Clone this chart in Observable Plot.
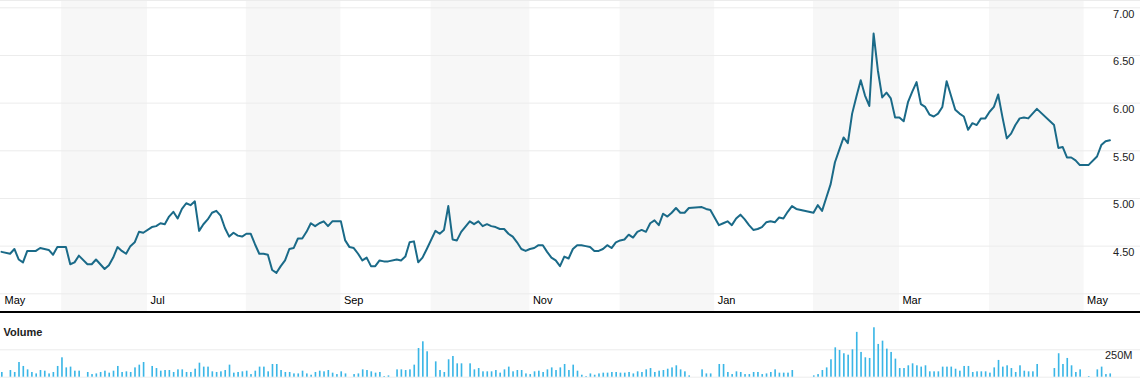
<!DOCTYPE html>
<html><head><meta charset="utf-8">
<script src="https://cdn.jsdelivr.net/npm/d3@7"></script>
<script src="https://cdn.jsdelivr.net/npm/@observablehq/plot@0.6"></script>
<style>
html,body{margin:0;padding:0;background:#fff;}
body{width:1140px;height:392px;overflow:hidden;font-family:"Liberation Sans",Arial,sans-serif;}
#price{height:311px;border-bottom:2px solid #000;}
#price svg,#vol svg{display:block;}
</style></head><body>
<div id="price"></div>
<div id="vol"></div>
<script>
// closing price per trading-day slot (null = market holiday)
const prices = [
4.44,null,4.42,4.47,4.36,4.33,4.45,4.45,4.45,4.48,
4.47,4.46,4.41,4.49,4.49,4.49,4.31,4.33,4.40,null,
4.31,4.31,4.36,4.31,4.26,4.30,4.38,4.49,4.45,4.42,
4.50,4.54,4.65,4.64,null,4.70,4.71,4.74,4.73,4.81,
4.86,4.79,4.89,4.95,4.93,4.97,4.66,4.73,4.78,4.85,
4.87,4.82,4.69,4.60,4.64,4.61,4.60,4.63,4.63,4.52,
4.42,4.42,4.41,4.25,4.22,4.29,4.35,4.47,4.48,4.58,
4.58,4.65,4.74,4.71,4.74,4.76,4.71,4.76,4.76,4.76,
4.56,4.49,4.48,4.42,4.35,4.38,4.29,4.29,4.35,4.34,
4.34,null,4.36,4.35,4.39,4.54,4.55,4.33,4.38,4.47,
null,4.66,4.63,4.67,4.92,4.57,4.56,4.65,null,4.76,
4.73,4.76,4.71,4.73,4.71,4.70,4.68,4.68,4.63,4.60,
4.54,4.47,4.45,4.47,4.48,4.51,4.51,4.44,4.38,4.35,
4.29,4.39,4.37,4.47,4.51,4.51,4.50,4.49,4.45,4.45,
4.47,4.51,4.48,4.54,4.56,4.57,4.62,4.59,4.65,4.67,
4.65,4.74,4.77,4.72,4.84,4.81,4.85,4.90,4.85,4.85,
4.90,null,null,4.91,4.89,4.88,null,4.72,4.74,4.76,
4.72,4.79,4.83,4.78,4.72,4.67,4.68,4.70,4.75,4.76,
4.75,4.80,4.79,4.86,4.92,4.89,null,null,null,4.85,
4.93,4.87,5.01,5.15,5.38,5.51,5.64,5.58,5.89,6.07,
6.24,6.08,5.97,6.73,6.34,6.06,6.11,6.05,5.85,5.85,
5.81,6.01,6.12,6.22,5.99,5.96,5.88,5.86,5.89,5.96,
6.23,6.08,5.93,5.89,5.86,5.72,5.79,5.77,5.84,5.84,
5.91,5.96,6.09,5.85,5.63,5.68,5.77,5.84,5.85,5.84,
5.89,5.94,null,null,null,5.77,5.53,5.54,5.43,5.43,
5.40,5.35,null,5.35,null,5.44,5.56,5.60,5.61
];
// volume in millions per trading-day slot
const volumes = [
43,null,61,43,134,98,67,43,30,61,
55,30,43,98,177,85,92,55,55,null,
43,24,30,43,55,37,55,98,43,49,
43,85,110,134,null,98,79,55,61,61,
43,67,67,43,43,73,128,92,92,49,
43,49,61,110,37,43,49,55,24,55,
92,92,49,116,116,61,43,43,30,30,
55,30,18,43,55,49,61,37,24,49,
30,null,24,30,67,61,49,37,43,6,
12,null,67,67,61,67,110,262,323,232,
null,140,61,43,159,189,122,122,null,122,
67,79,49,49,49,61,37,67,92,49,
61,61,30,24,49,55,43,67,85,61,
85,116,61,110,55,18,6,30,18,30,
37,37,43,43,37,37,43,30,49,43,
67,79,43,55,61,73,85,104,67,49,
12,null,null,67,30,30,null,116,116,43,
24,49,43,24,24,43,43,24,30,43,
67,37,37,37,61,null,null,null,null,12,
24,61,85,159,268,244,214,201,250,409,
226,177,171,451,299,329,256,226,165,79,
79,104,122,104,92,104,49,49,49,92,
92,92,73,55,98,98,43,49,49,49,
37,85,153,92,104,79,43,104,55,49,
49,116,null,null,null,79,214,116,171,104,
43,67,null,6,null,67,92,24,30
];
const monthNames  = ["May","Jun","Jul","Aug","Sep","Oct","Nov","Dec","Jan","Feb","Mar","Apr","May"];
const monthStarts = [0,14,34,57,79,100,123,144,166,189,209,230,252];
const priceTicks = [4.5,5.0,5.5,6.0,6.5,7.0];
const priceGrid  = [4.0,4.5,5.0,5.5,6.0,6.5,7.0];
const volumeTicks = [250];

const lastIndex = prices.length - 1;
const priceData = prices.map((p,i)=>({i,p})).filter(d=>d.p!=null);
const volData = volumes.map((v,i)=>({i,v})).filter(d=>d.v!=null);
const months = monthNames.map((m,k)=>({m,start:monthStarts[k],end:k+1<monthStarts.length?monthStarts[k+1]:lastIndex}));
const bands = months.filter((d,k)=>k%2===1);
const labeled = months.filter((d,k)=>k%2===0);

const xScale = {domain:[0,lastIndex], range:[1,1109.4], axis:null};
const font = {fontSize:11, fontFamily:"Liberation Sans, Arial, sans-serif"};

const price = Plot.plot({
  width:1140, height:311, margin:0,
  style:{background:"#fff", overflow:"visible"},
  x:xScale,
  y:{domain:[4,7], range:[293.3,7.3], axis:null},
  marks:[
    Plot.rect(bands,{x1:"start",x2:"end",fill:"#f7f7f7"}),
    Plot.ruleY(priceGrid,{stroke:"#ececec",strokeWidth:1}),
    Plot.frame({anchor:"top",stroke:"#ececec"}),
    Plot.line(priceData,{x:"i",y:"p",stroke:"#1a6a88",strokeWidth:2,strokeLinejoin:"round"}),
    Plot.text(priceTicks,{y:d=>d,text:d=>d.toFixed(2),frameAnchor:"right",textAnchor:"end",dx:-6,dy:6.5,fill:"#222",...font}),
    Plot.text(labeled,{x:"start",text:"m",frameAnchor:"bottom",textAnchor:"start",dx:3,dy:-8,fill:"#000",...font})
  ]
});
document.getElementById("price").appendChild(price);

const vol = Plot.plot({
  width:1140, height:79, margin:0,
  style:{background:"#fff", overflow:"visible"},
  x:xScale,
  y:{domain:[0,250], range:[63.7,36.3], axis:null},
  marks:[
    Plot.ruleY([0,...volumeTicks],{stroke:"#ececec"}),
    Plot.rectY(volData,{x1:"i",x2:d=>d.i+0.38,y:"v",fill:"#3bb6e6"}),
    Plot.text(volumeTicks,{y:d=>d,text:d=>d+"M",frameAnchor:"right",textAnchor:"end",dx:-8,dy:6,fill:"#222",...font}),
    Plot.text(["Volume"],{frameAnchor:"top-left",text:d=>d,dx:3,dy:14.7,fill:"#222",fontWeight:"bold",...font})
  ]
});
document.getElementById("vol").appendChild(vol);
</script>
</body></html>
